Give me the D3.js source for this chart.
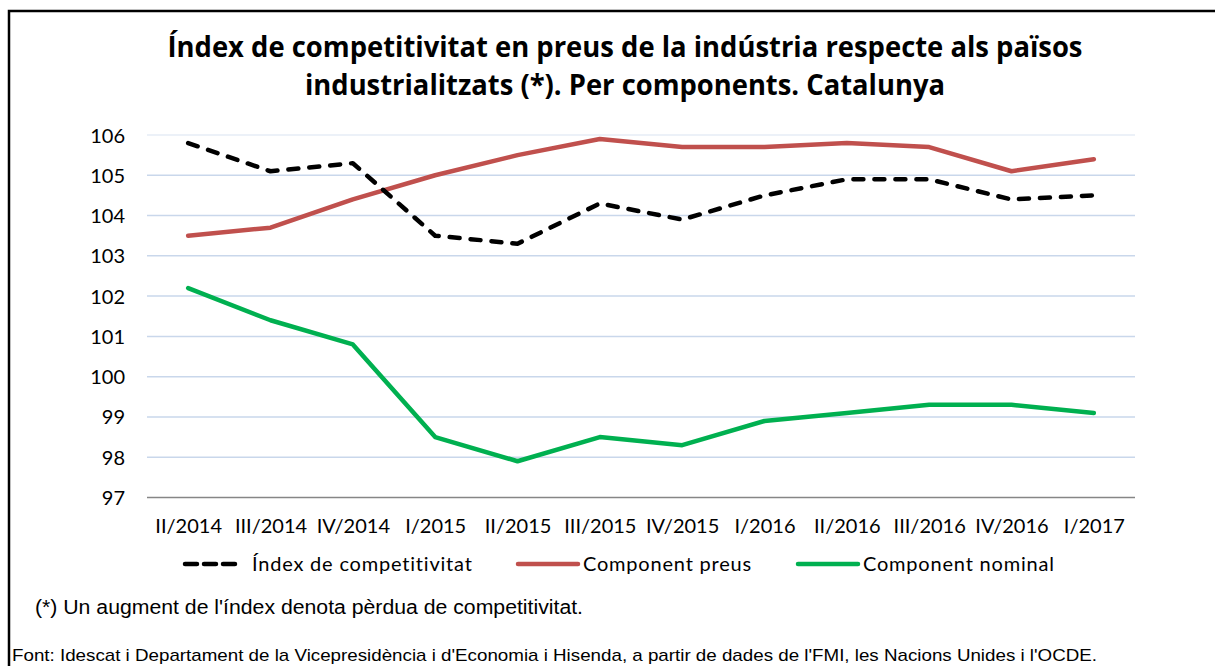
<!DOCTYPE html>
<html>
<head>
<meta charset="utf-8">
<script src="https://cdn.jsdelivr.net/npm/d3@7"></script>
<style>
    html, body { margin: 0; padding: 0; background: #fff; overflow: hidden; }
    .tick-label { font-family: Lato, 'Open Sans', sans-serif; font-size: 20px; font-weight: 400; fill: #000; }
    .legend-label { font-family: Lato, 'Open Sans', sans-serif; font-size: 20px; letter-spacing: 0.8px; fill: #000; }
    .chart-title { font-family: 'Open Sans', Lato, sans-serif; font-size: 28px; font-weight: 700; fill: #000; }
    .note { font-family: 'Liberation Sans', Arial, sans-serif; fill: #000; }
</style>
</head>
<body>
<svg id="chart"></svg>
<script>
const quarters = ['II/2014', 'III/2014', 'IV/2014', 'I/2015', 'II/2015', 'III/2015',
    'IV/2015', 'I/2016', 'II/2016', 'III/2016', 'IV/2016', 'I/2017'];
const indexValues = [105.8, 105.1, 105.3, 103.5, 103.3, 104.3, 103.9, 104.5, 104.9, 104.9, 104.4, 104.5];
const priceValues = [103.5, 103.7, 104.4, 105.0, 105.5, 105.9, 105.7, 105.7, 105.8, 105.7, 105.1, 105.4];
const nominalValues = [102.2, 101.4, 100.8, 98.5, 97.9, 98.5, 98.3, 98.9, 99.1, 99.3, 99.3, 99.1];
const yTicks = [97, 98, 99, 100, 101, 102, 103, 104, 105, 106];
const seriesNames = ['Índex de competitivitat', 'Component preus', 'Component nominal'];
const titleLines = [
    'Índex de competitivitat en preus de la indústria respecte als països',
    'industrialitzats (*). Per components. Catalunya',
];
const footnote = "(*) Un augment de l'índex denota pèrdua de competitivitat.";
const source = "Font: Idescat i Departament de la Vicepresidència i d'Economia i Hisenda, a partir de dades de l'FMI, les Nacions Unides i l'OCDE.";

const WIDTH = 1215;
const HEIGHT = 666;
const PLOT = { left: 147, right: 1135, top: 135, bottom: 497.5 };

const svg = d3.select('#chart').attr('width', WIDTH).attr('height', HEIGHT);

const xCoord = d3.scalePoint().domain(quarters).range([PLOT.left, PLOT.right]).padding(0.5);
const yCoord = d3.scaleLinear().domain([97, 106]).range([PLOT.bottom, PLOT.top]);

const series = [
    { name: seriesNames[0], values: indexValues, color: '#000000', dash: '10,11' },
    { name: seriesNames[1], values: priceValues, color: '#C0504D', dash: null },
    { name: seriesNames[2], values: nominalValues, color: '#00B050', dash: null },
];

// frame (only top and left edges are visible in the picture)
svg.append('path')
    .attr('d', `M9,${HEIGHT + 2} V11 H${WIDTH + 2}`)
    .attr('fill', 'none')
    .attr('stroke', '#000')
    .attr('stroke-width', 2.5);

// title
const titleWidths = [915, 640];
titleLines.forEach((line, i) => {
    svg.append('text')
        .attr('class', 'chart-title')
        .attr('x', 625)
        .attr('y', 57 + i * 38)
        .attr('text-anchor', 'middle')
        .attr('textLength', titleWidths[i])
        .attr('lengthAdjust', 'spacingAndGlyphs')
        .text(line);
});

// gridlines + axes
svg.append('g')
    .attr('class', 'grid')
    .selectAll('line')
    .data(yTicks.filter(t => t !== 97))
    .join('line')
    .attr('x1', PLOT.left)
    .attr('x2', PLOT.right)
    .attr('y1', d => yCoord(d))
    .attr('y2', d => yCoord(d))
    .attr('stroke', d => (d === 106 ? '#E6EDF6' : '#C9D7EB'))
    .attr('stroke-width', 1.5);

const yAxis = d3.axisLeft(yCoord).tickValues(yTicks).tickSize(0).tickPadding(22);
const yAxisG = svg.append('g')
    .attr('class', 'axis axis--y')
    .attr('transform', `translate(${PLOT.left}, 0)`)
    .call(yAxis);
yAxisG.select('.domain').remove();
yAxisG.selectAll('text').attr('class', 'tick-label').attr('dy', '0.35em');

const xAxis = d3.axisBottom(xCoord).tickSize(0).tickPadding(21);
const xAxisG = svg.append('g')
    .attr('class', 'axis axis--x')
    .attr('transform', `translate(0, ${PLOT.bottom})`)
    .call(xAxis);
xAxisG.select('.domain')
    .attr('d', `M${PLOT.left},0H${PLOT.right}`)
    .attr('stroke', '#868686')
    .attr('stroke-width', 1.5);
xAxisG.selectAll('text').attr('class', 'tick-label').attr('dy', '0.71em');

// lines
const line = d3.line()
    .x((d, i) => xCoord(quarters[i]))
    .y(d => yCoord(d));

svg.append('g')
    .attr('class', 'chart-data')
    .selectAll('path')
    .data(series.slice().reverse())
    .join('path')
    .attr('d', d => line(d.values))
    .attr('fill', 'none')
    .attr('stroke', d => d.color)
    .attr('stroke-width', 4.5)
    .attr('stroke-linejoin', 'round')
    .attr('stroke-linecap', 'round')
    .attr('stroke-dasharray', d => d.dash);

// legend
const legendX = [185, 518, 798];
const legend = svg.append('g').attr('class', 'legend');
series.forEach((s, i) => {
    const g = legend.append('g').attr('transform', `translate(${legendX[i]}, 564)`);
    g.append('line')
        .attr('x1', 0)
        .attr('x2', s.dash ? 53 : 60)
        .attr('stroke', s.color)
        .attr('stroke-width', 4.5)
        .attr('stroke-linecap', 'round')
        .attr('stroke-dasharray', s.dash ? '12,7' : null);
    g.append('text')
        .attr('class', 'legend-label')
        .attr('x', s.dash ? 67 : 65)
        .attr('dy', '0.35em')
        .text(s.name);
});

// notes
svg.append('text')
    .attr('class', 'note')
    .attr('x', 35)
    .attr('y', 614)
    .attr('textLength', 548)
    .attr('lengthAdjust', 'spacingAndGlyphs')
    .style('font-size', '20px')
    .text(footnote);

svg.append('text')
    .attr('class', 'note')
    .attr('x', 12)
    .attr('y', 661)
    .attr('textLength', 1085)
    .attr('lengthAdjust', 'spacingAndGlyphs')
    .style('font-size', '17px')
    .text(source);
</script>
</body>
</html>
